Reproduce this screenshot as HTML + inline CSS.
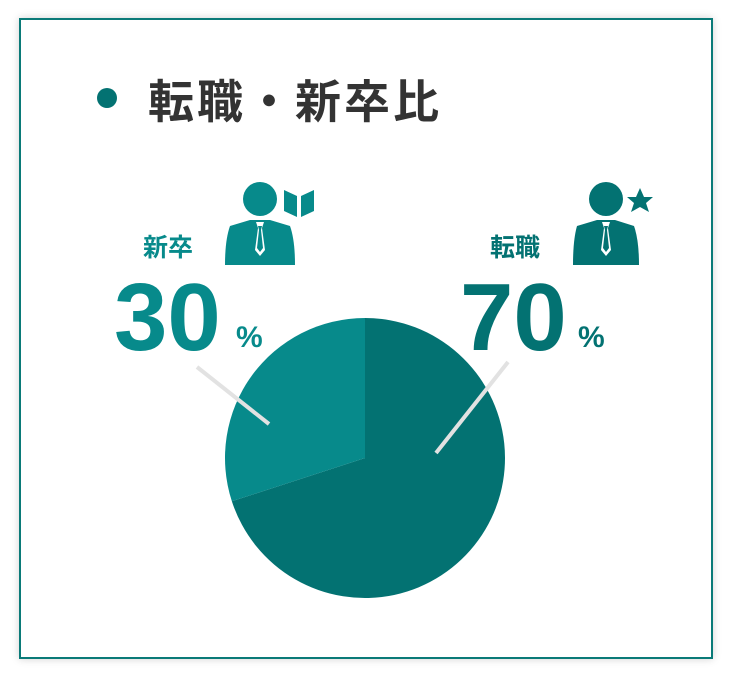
<!DOCTYPE html>
<html><head><meta charset="utf-8"><style>
body{margin:0;width:730px;height:676px;background:#fff;overflow:hidden;font-family:"Liberation Sans","Noto Sans CJK JP",sans-serif}
.card{position:absolute;left:19px;top:18px;width:690px;height:637px;border:2px solid #0a7a78;box-shadow:0 0 8px rgba(0,0,0,0.18);background:#fff}
</style></head><body>
<div class="card"></div>
<svg width="730" height="676" style="position:absolute;left:0;top:0">
<circle cx="107" cy="98" r="10" fill="#037272"/>
<text x="148" y="118" font-size="46" letter-spacing="3" font-weight="bold" fill="#333" font-family="Liberation Sans, Noto Sans CJK JP, sans-serif">転職・新卒比</text>
<g id="pie"></g>
<line x1="197" y1="367" x2="269" y2="424" stroke="#e2e2e2" stroke-width="4"/>
<line x1="508" y1="362" x2="436" y2="453" stroke="#e2e2e2" stroke-width="4"/>
<text x="143" y="256" font-size="25" font-weight="bold" fill="#078a8b" font-family="Liberation Sans, Noto Sans CJK JP, sans-serif">新卒</text>
<text id="v0" x="114" y="350" font-size="96" font-weight="bold" fill="#078a8b"></text>
<text x="236" y="347" font-size="30" font-weight="bold" fill="#078a8b">%</text>
<g fill="#078a8b">
<circle cx="260" cy="199" r="17"/>
<path d="M230 226 L250 220 L270 220 L290 226 Q295 240 295 265 L225 265 Q225 240 230 226Z"/>
<path d="M284 190 L297 196 L297 217 L284 211Z M301 196 L314 190 L314 211 L301 217Z"/>
</g>
<g><path d="M256 222 L264 222 L262 228 L265 250 L260 256 L255 250 L258 228Z" fill="#fff"/><path d="M258 226 L262 226 L261 230 L263 248 L260 252 L257 248 L259 230Z" fill="#078a8b"/></g>
<text x="490" y="256" font-size="25" font-weight="bold" fill="#037272" font-family="Liberation Sans, Noto Sans CJK JP, sans-serif">転職</text>
<text id="v1" x="460" y="350" font-size="96" font-weight="bold" fill="#037272"></text>
<text x="578" y="347" font-size="30" font-weight="bold" fill="#037272">%</text>
<g fill="#037272">
<circle cx="606" cy="199" r="17"/>
<path d="M577 226 L597 220 L615 220 L634 226 Q639 240 639 265 L573 265 Q573 240 577 226Z"/>
<path d="M640 188 L644 197 L653 197 L646 203 L649 212 L640 207 L631 212 L634 203 L627 197 L636 197Z"/>
</g>
<g><path d="M602 222 L610 222 L608 228 L611 250 L606 256 L601 250 L604 228Z" fill="#fff"/><path d="M604 226 L608 226 L607 230 L609 248 L606 252 L603 248 L605 230Z" fill="#037272"/></g>
</svg>
<script>
const categories = ["転職", "新卒"];
const values = [70, 30];
const colors = ["#037272", "#078a8b"];
const cx = 365, cy = 458, r = 140;
const g = document.getElementById('pie');
const total = values.reduce((a,b)=>a+b,0);
let a0 = 0;
values.forEach((v,i)=>{
  const a1 = a0 + v/total*2*Math.PI;
  const x0 = cx + r*Math.sin(a0), y0 = cy - r*Math.cos(a0);
  const x1 = cx + r*Math.sin(a1), y1 = cy - r*Math.cos(a1);
  const large = (a1-a0) > Math.PI ? 1 : 0;
  const p = document.createElementNS('http://www.w3.org/2000/svg','path');
  p.setAttribute('d', `M${cx} ${cy} L${x0} ${y0} A${r} ${r} 0 ${large} 1 ${x1} ${y1} Z`);
  p.setAttribute('fill', colors[i]);
  
  
  g.appendChild(p);
  a0 = a1;
});
document.getElementById('v1').textContent = values[0];
document.getElementById('v0').textContent = values[1];
</script>
</body></html>
